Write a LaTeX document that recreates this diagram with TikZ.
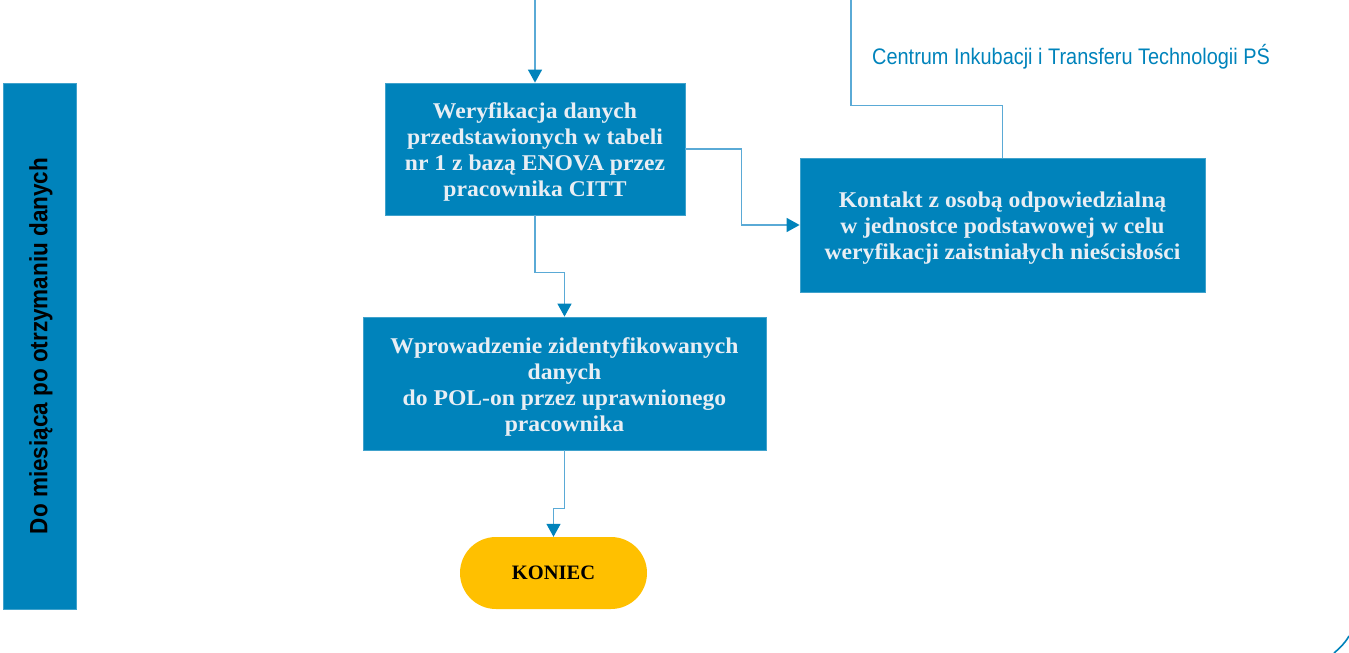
\documentclass[tikz,border=0pt]{standalone}
\usepackage{fontspec}
\setmainfont{Liberation Serif}
\newfontfamily\boxserif[FakeStretch=1.05]{Liberation Serif}
\newfontfamily\condsans[FakeStretch=0.9]{Liberation Sans}
\newfontfamily\labelsans[FakeStretch=0.885]{Liberation Sans}
\usetikzlibrary{arrows.meta,calc}
\definecolor{boxblue}{RGB}{0,131,187}
\definecolor{linecol}{RGB}{90,170,214}
\definecolor{boxtext}{RGB}{232,238,244}
\definecolor{endyellow}{RGB}{255,192,0}
\newcommand{\topstrut}{\rule{0pt}{22pt}}
\tikzset{
  procbox/.style={rectangle, fill=boxblue, draw=boxblue!75!white, line width=0.8pt, text=boxtext,
     font=\boxserif\bfseries\fontsize{22.5}{26}\selectfont, align=center, inner sep=0pt},
  conn/.style={draw=linecol, line width=1.5pt, -{Triangle[length=13pt,width=14pt,color=boxblue]}},
  plainconn/.style={draw=linecol, line width=1.5pt},
  endbox/.style={rectangle, rounded corners=36pt, fill=endyellow, text=black,
     font=\bfseries\fontsize{20.5}{24}\selectfont, inner sep=0pt},
  sidebar/.style={rectangle, fill=boxblue, draw=boxblue!75!white, line width=0.8pt, inner sep=0pt},
}
\begin{document}
\begin{tikzpicture}[x=1pt,y=-1pt]
\useasboundingbox (0,0) rectangle (1349,653);
% left bar
\node[sidebar, minimum width=73pt, minimum height=526pt] (bar) at (39.5,346) {};
\node[rotate=90, text=black, font=\condsans\bfseries\fontsize{25}{28}\selectfont] (bartext) at (41,346) {Do miesiąca po otrzymaniu danych};
% boxes
\node[procbox, minimum width=300pt, minimum height=132pt] (b1) at (535,149)
  {\topstrut Weryfikacja danych\\przedstawionych w tabeli\\nr 1 z bazą ENOVA przez\\pracownika CITT};
\node[procbox, minimum width=405pt, minimum height=134pt] (b2) at (1002.5,225)
  {\topstrut Kontakt z osobą odpowiedzialną\\w jednostce podstawowej w celu\\weryfikacji zaistniałych nieścisłości};
\node[procbox, minimum width=403pt, minimum height=133pt] (b3) at (564.5,383.5)
  {\topstrut Wprowadzenie zidentyfikowanych\\danych\\do POL-on przez uprawnionego\\pracownika};
\node[endbox, minimum width=187pt, minimum height=72pt] (kon) at (553.5,573) {KONIEC};
% label
\node[text=boxblue, font=\labelsans\fontsize{22.5}{24}\selectfont, anchor=west, inner sep=0pt] (citt) at (872,57)
  {Centrum Inkubacji i Transferu Technologii PŚ};
% free ends
\coordinate (top1) at (535,0);
\coordinate (top2) at (851,0);
% connectors
\draw[conn] (top1) -- (b1.north);
\draw[conn] (b1.east) -| ([xshift=-58pt]b2.west) -- (b2.west);
\draw[plainconn] (b2.north) -- ++(0,-52) -| (top2);
\draw[conn] (b1.south) -- ++(0,57) -| (b3.north);
\draw[conn] (b3.south) -- ++(0,58) -| (kon.north);
% corner arc
\draw[boxblue, line width=1.6pt] (1334,653) .. controls (1340,648) and (1345,643) .. (1349,636);
\end{tikzpicture}
\end{document}
